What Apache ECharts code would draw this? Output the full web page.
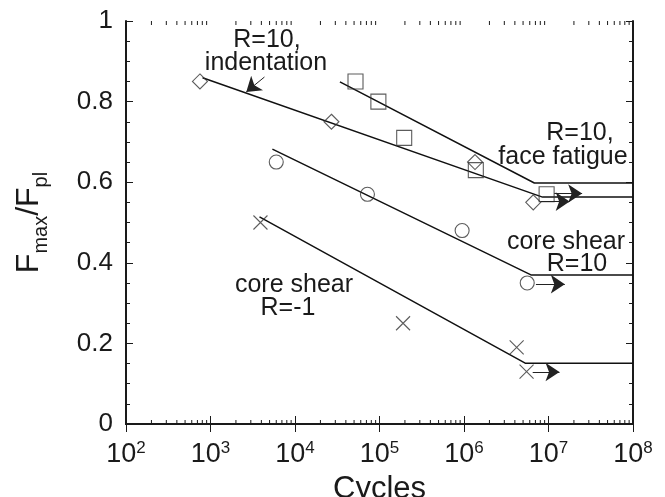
<!DOCTYPE html>
<html>
<head>
<meta charset="utf-8">
<script src="https://cdn.jsdelivr.net/npm/echarts@6.0.0/dist/echarts.min.js"></script>
<style>
  html, body { margin: 0; padding: 0; background: #fff; }
  #chart { width: 665px; height: 497px; }
</style>
</head>
<body>
<div id="chart"></div>
<script>
  // measured points (cycles, Fmax/Fpl)
  const indentCycles = [750, 27000, 1.35e6, 6.6e6];
  const indentRatio = [0.85, 0.75, 0.65, 0.55];
  const faceCycles = [52000, 97000, 1.96e5, 1.38e6, 9.5e6];
  const faceRatio = [0.85, 0.80, 0.71, 0.63, 0.57];
  const core10Cycles = [6000, 72000, 9.5e5, 5.6e6];
  const core10Ratio = [0.65, 0.57, 0.48, 0.35];
  const coreM1Cycles = [3900, 1.9e5, 4.2e6, 5.5e6];
  const coreM1Ratio = [0.50, 0.25, 0.19, 0.13];

  // fitted lines: start, knee, run-out level
  const indentFit = [[805, 0.859], [8.5e6, 0.563], [1e8, 0.563]];
  const faceFit = [[34000, 0.849], [6.8e6, 0.598], [1e8, 0.598]];
  const core10Fit = [[5400, 0.682], [6.2e6, 0.37], [1e8, 0.37]];
  const coreM1Fit = [[3800, 0.514], [5.3e6, 0.151], [1e8, 0.151]];

  // run-out arrows: [from, to, level]
  const runouts = [
    [1.17e7, 2.5e7, 0.572],
    [8.05e6, 1.78e7, 0.552],
    [7.1e6, 1.56e7, 0.347],
    [6.5e6, 1.35e7, 0.129]
  ];
  const pointer = [[4350, 0.861], [2650, 0.824]];

  const decadeStarts = [1e2, 1e3, 1e4, 1e5, 1e6, 1e7];
  const minorMultipliers = [2, 3, 4, 5, 6, 7, 8, 9];

  const font = "'Liberation Sans', Arial, Helvetica, sans-serif";
  const ink = '#1a1a1a';

  const zip = (xs, ys) => xs.map((x, i) => [x, ys[i]]);
  let minorTicks = [];
  decadeStarts.forEach(d => minorMultipliers.forEach(m => minorTicks.push([d * m, 0])));

  const cross = 'path://M0,0L10,10M10,0L0,10';
  const openMark = { color: 'rgba(0,0,0,0)', borderColor: '#333', borderWidth: 1.1 };

  let myChart = echarts.init(document.getElementById('chart'));

  const xBase = {
    type: 'log', logBase: 10, min: 100, max: 1e8,
    axisLine: { lineStyle: { color: ink, width: 2 } },
    axisTick: { inside: true, length: 8, lineStyle: { color: ink, width: 1 } },
    splitLine: { show: false }
  };
  const yBase = {
    type: 'value', min: 0, max: 1, interval: 0.2,
    axisLine: { show: true, lineStyle: { color: ink, width: 2 } },
    axisTick: { show: true, inside: true, length: 7, lineStyle: { color: ink, width: 1 } },
    minorTick: { show: true, splitNumber: 4, length: 4, lineStyle: { color: ink, width: 1 } },
    splitLine: { show: false }
  };

  const fitStyle = { color: '#111', width: 1.5 };
  const fitSeries = [indentFit, faceFit, core10Fit, coreM1Fit].map(d => ({
    type: 'line', data: d, symbol: 'none', lineStyle: fitStyle, z: 2
  }));

  let option = {
    animation: false,
    grid: { left: 126, right: 32, top: 21, bottom: 73, outerBoundsMode: 'none' },
    xAxis: [
      Object.assign({}, xBase, {
        position: 'bottom',
        name: 'Cycles', nameLocation: 'middle', nameGap: 37,
        nameTextStyle: { fontFamily: font, fontSize: 31, color: ink, lineHeight: 32 },
        axisLabel: {
          margin: 16,
          formatter: v => '{b|10}{s|' + Math.round(Math.log10(v)) + '}',
          rich: {
            b: { fontFamily: font, fontSize: 27, color: ink, lineHeight: 30 },
            s: { fontFamily: font, fontSize: 17, color: ink, lineHeight: 16, verticalAlign: 'top' }
          }
        }
      }),
      Object.assign({}, xBase, { position: 'top', axisLabel: { show: false } })
    ],
    yAxis: [
      Object.assign({}, yBase, {
        position: 'left',
        name: '{a|F}{b|max}{a|/F}{b|pl}',
        nameLocation: 'middle', nameRotate: 90, nameGap: 75,
        nameTextStyle: {
          rich: {
            a: { fontFamily: font, fontSize: 32, color: ink, lineHeight: 44 },
            b: { fontFamily: font, fontSize: 20, color: ink, lineHeight: 16, verticalAlign: 'bottom' }
          }
        },
        axisLabel: { margin: 13, fontFamily: font, fontSize: 26, color: ink }
      }),
      Object.assign({}, yBase, { position: 'right', axisLabel: { show: false } })
    ],
    series: fitSeries.concat([
      {
        type: 'scatter', data: zip(indentCycles, indentRatio),
        symbol: 'diamond', symbolSize: 15, itemStyle: openMark, z: 3
      },
      {
        type: 'scatter', data: zip(faceCycles, faceRatio),
        symbol: 'rect', symbolSize: 15, itemStyle: openMark, z: 3
      },
      {
        type: 'scatter', data: zip(core10Cycles, core10Ratio),
        symbol: 'circle', symbolSize: 14, itemStyle: openMark, z: 3
      },
      {
        type: 'scatter', data: zip(coreM1Cycles, coreM1Ratio),
        symbol: cross, symbolSize: 14, itemStyle: openMark, z: 3
      },
      {
        type: 'lines', coordinateSystem: 'cartesian2d', z: 4,
        symbol: ['none', 'arrow'], symbolSize: [9, 14],
        lineStyle: { color: '#222', width: 1, opacity: 1 },
        data: runouts.map(r => ({ coords: [[r[0], r[2]], [r[1], r[2]]] }))
          .concat([{ coords: pointer }])
      },
      {
        type: 'custom', clip: false, silent: true, z: 5,
        encode: { x: 0, y: 1 },
        data: minorTicks,
        renderItem: function (params, api) {
          const v = api.value(0);
          const b = api.coord([v, 0]);
          const t = api.coord([v, 1]);
          const st = { stroke: ink, lineWidth: 1 };
          return {
            type: 'group',
            children: [
              { type: 'line', shape: { x1: b[0], y1: b[1], x2: b[0], y2: b[1] - 4 }, style: st },
              { type: 'line', shape: { x1: t[0], y1: t[1], x2: t[0], y2: t[1] + 4 }, style: st }
            ]
          };
        }
      }
    ]),
    graphic: [
      ['R=10,', 267, 40], ['indentation', 266, 63],
      ['R=10,', 580, 133], ['face fatigue', 563, 157],
      ['core shear', 566, 242], ['R=10', 577, 264],
      ['core shear', 294, 285], ['R=-1', 288, 308]
    ].map(t => ({
      type: 'text', x: t[1], y: t[2], z: 10,
      style: {
        text: t[0], fill: ink, font: '25px ' + font,
        textAlign: 'center', textVerticalAlign: 'middle'
      }
    }))
  };

  myChart.setOption(option);
</script>
</body>
</html>
